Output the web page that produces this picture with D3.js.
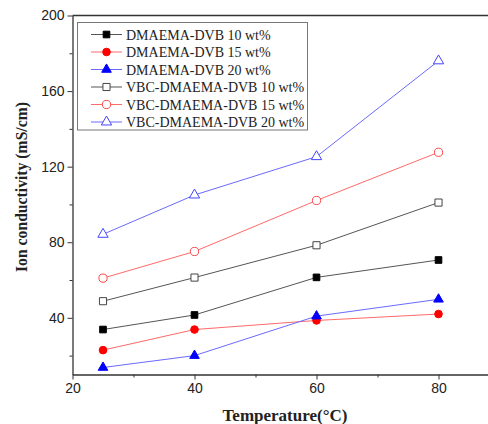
<!DOCTYPE html>
<html>
<head>
<meta charset="utf-8">
<script src="https://cdn.jsdelivr.net/npm/d3@7"></script>
<style>
  body { margin: 0; background: #fff; }
  svg { display: block; }
  .tick text { font-family: "Liberation Sans", Arial, sans-serif; font-size: 14px; fill: #222; }
  .axis-title { font-family: "Liberation Serif", "Times New Roman", serif; font-weight: bold; fill: #222; }
  .legend text { font-family: "Liberation Serif", "Times New Roman", serif; font-size: 14px; fill: #222; }
</style>
</head>
<body>
<div id="chart"></div>
<script>
const temps = [25, 40, 60, 80];
const seriesNames = [
  "DMAEMA-DVB 10 wt%", "DMAEMA-DVB 15 wt%", "DMAEMA-DVB 20 wt%",
  "VBC-DMAEMA-DVB 10 wt%", "VBC-DMAEMA-DVB 15 wt%", "VBC-DMAEMA-DVB 20 wt%"
];
const dvb10 = [33.8, 41.5, 61.4, 70.6];
const dvb15 = [22.9, 33.8, 38.6, 42.0];
const dvb20 = [13.7, 20.0, 40.9, 49.8];
const vbc10 = [48.8, 61.3, 78.4, 101.0];
const vbc15 = [61.0, 75.1, 102.1, 127.6];
const vbc20 = [84.2, 105.0, 125.3, 176.0];
const xTicks = [20, 40, 60, 80];
const yTicks = [40, 80, 120, 160, 200];

const seriesValues = [dvb10, dvb15, dvb20, vbc10, vbc15, vbc20];
const markers = ["square", "circle", "triangle", "square", "circle", "triangle"];
const filled = [true, true, true, false, false, false];
const markColor = ["#000", "#f00", "#00f", "#444", "#f44", "#44f"];
const lineColor = ["#555", "#ff6a6a", "#6a6aff", "#555", "#ff6a6a", "#6a6aff"];

const W = 488, H = 424;
const svg = d3.select("#chart").append("svg").attr("width", W).attr("height", H);

const x = d3.scaleLinear().domain([20, 90]).range([72.5, 72.5 + 70 * 6.1]);
const y = d3.scaleLinear().domain([10, 200]).range([374.5, 15.5]);

const symbolFor = m => m === "square" ? d3.symbolSquare : m === "circle" ? d3.symbolCircle : d3.symbolTriangle;
const sizeFor = m => m === "square" ? 44 : m === "circle" ? 46 : 40;

// top frame line
svg.append("line").attr("x1", x(20)).attr("x2", W).attr("y1", y(200)).attr("y2", y(200))
  .attr("stroke", "#333").attr("stroke-width", 1.5);

// minor ticks
svg.append("g").attr("transform", `translate(0,${y(10)})`)
  .call(d3.axisBottom(x).tickValues([30, 50, 70]).tickSize(3).tickFormat(""))
  .call(g => g.select(".domain").remove())
  .selectAll("line").attr("stroke", "#333");
svg.append("g").attr("transform", `translate(${x(20)},0)`)
  .call(d3.axisLeft(y).tickValues([20, 60, 100, 140, 180]).tickSize(3).tickFormat(""))
  .call(g => g.select(".domain").remove())
  .selectAll("line").attr("stroke", "#333");

const xAxis = svg.append("g").attr("transform", `translate(0,${y(10)})`)
  .call(d3.axisBottom(x).tickValues(xTicks).tickSize(5).tickSizeOuter(0).tickPadding(4));
xAxis.select(".domain").attr("stroke", "#333").attr("stroke-width", 1.3);
xAxis.selectAll(".tick line").attr("stroke", "#333");

const yAxis = svg.append("g").attr("transform", `translate(${x(20)},0)`)
  .call(d3.axisLeft(y).tickValues(yTicks).tickSize(5).tickSizeOuter(0).tickPadding(3));
yAxis.select(".domain").attr("stroke", "#333").attr("stroke-width", 1.3);
yAxis.selectAll(".tick line").attr("stroke", "#333");

svg.append("text").attr("class", "axis-title")
  .attr("transform", "translate(27,187) rotate(-90)")
  .attr("text-anchor", "middle").style("font-size", "17px")
  .attr("textLength", 170).attr("lengthAdjust", "spacingAndGlyphs")
  .text("Ion conductivity (mS/cm)");

svg.append("text").attr("class", "axis-title")
  .attr("x", 285).attr("y", 421)
  .attr("text-anchor", "middle").style("font-size", "17px")
  .text("Temperature(\u00B0C)");

const line = d3.line().x((d, i) => x(temps[i])).y(d => y(d));

seriesValues.forEach((vals, s) => {
  svg.append("path").datum(vals)
    .attr("d", line).attr("fill", "none")
    .attr("stroke", lineColor[s]).attr("stroke-width", 1);
});

seriesValues.forEach((vals, s) => {
  const sym = d3.symbol().type(symbolFor(markers[s])).size(sizeFor(markers[s]) * (filled[s] ? 1 : 1.15));
  svg.append("g").selectAll("path").data(vals).join("path")
    .attr("transform", (d, i) => `translate(${x(temps[i])},${y(d)})`)
    .attr("d", sym)
    .attr("fill", filled[s] ? markColor[s] : "#fff")
    .attr("stroke", markColor[s]).attr("stroke-width", 1);
});

// legend
const legend = svg.append("g").attr("class", "legend");
legend.append("rect").attr("x", 77.5).attr("y", 22.5).attr("width", 230).attr("height", 107.5)
  .attr("fill", "#fff").attr("stroke", "#777").attr("stroke-width", 1);
seriesNames.forEach((name, s) => {
  const ly = 34.5 + s * 17.5;
  const row = legend.append("g").attr("transform", `translate(0,${ly})`);
  row.append("line").attr("x1", 91).attr("x2", 122).attr("y1", 0).attr("y2", 0)
    .attr("stroke", lineColor[s]).attr("stroke-width", 1);
  row.append("path")
    .attr("transform", "translate(106.5,0)")
    .attr("d", d3.symbol().type(symbolFor(markers[s])).size(sizeFor(markers[s]) * (filled[s] ? 1 : 1.15)))
    .attr("fill", filled[s] ? markColor[s] : "#fff")
    .attr("stroke", markColor[s]).attr("stroke-width", 1);
  row.append("text").attr("x", 126).attr("y", 5).text(name);
});
</script>
</body>
</html>
